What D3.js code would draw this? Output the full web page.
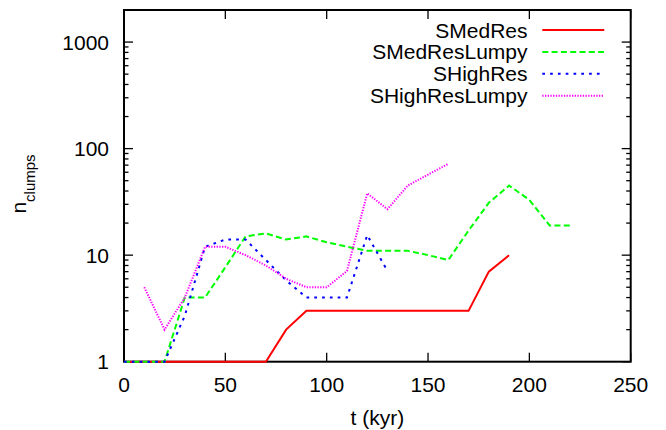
<!DOCTYPE html>
<html>
<head>
<meta charset="utf-8">
<script src="https://cdn.jsdelivr.net/npm/d3@7"></script>
<style>
  html, body { margin: 0; padding: 0; background: #fff; }
  svg { display: block; }
  text { font-family: "Liberation Sans", Arial, sans-serif; fill: #000; }
</style>
</head>
<body>
<svg id="chart" width="666" height="430"></svg>
<script>
// ---- data ----
const tMedRes = [0,10,20,30,40,50,60,70,80,90,100,110,120,130,140,150,160,170,180,190];
const nMedRes = [1,1,1,1,1,1,1,1,2,3,3,3,3,3,3,3,3,3,7,10];

const tMedResLumpy = [0,10,20,30,40,50,60,70,80,90,100,110,120,130,140,150,160,170,180,190,200,210,220];
const nMedResLumpy = [1,1,1,4,4,7.7,15,16,14,15,13.2,12,11,11,11,10,9,17,31,45,33,19,19];

const tHighRes = [0,10,20,30,40,50,60,70,80,90,100,110,120,130];
const nHighRes = [1,1,1,2.7,12,14,14,9,5.8,4,4,4,15.4,7.1];

const tHighResLumpy = [10,20,30,40,50,60,70,80,90,100,110,120,130,140,150,160];
const nHighResLumpy = [5,2,4,12,12,10,8,6,5,5,7.1,38,27,45,57,72];

const seriesNames = ["SMedRes","SMedResLumpy","SHighRes","SHighResLumpy"];
const seriesColors = ["#ff0000","#00ff00","#0000ff","#ff00ff"];
const seriesDashes = [null,"6,3.3","2.7,5.1","1.3,1.4"];

const xTicks = [0,50,100,150,200,250];
const yTicks = [1,10,100,1000];
const xDomain = [0,250];
const yDomain = [1,2000];
const xLabel = "t (kyr)";
const yLabelMain = "n";
const yLabelSub = "clumps";

// ---- layout ----
const L = 124, R = 630.7, T = 10, B = 361.7;
const svg = d3.select("#chart");
const x = d3.scaleLinear().domain(xDomain).range([L, R]);
const y = d3.scaleLog().domain(yDomain).range([B, T]);

const series = [
  {t: tMedRes, n: nMedRes},
  {t: tMedResLumpy, n: nMedResLumpy},
  {t: tHighRes, n: nHighRes},
  {t: tHighResLumpy, n: nHighResLumpy}
].map((s, i) => ({
  name: seriesNames[i], color: seriesColors[i], dash: seriesDashes[i],
  pts: s.t.map((t, j) => [t, s.n[j]])
}));

// minor log ticks
const minor = [];
[1,10,100,1000].forEach(d => { for (let k = 2; k <= 9; k++) { const v = k*d; if (v < yDomain[1]) minor.push(v); } });

const tk = svg.append("g").attr("stroke", "#000").attr("stroke-width", 1.3);
// x ticks bottom & top
xTicks.forEach(v => {
  tk.append("line").attr("x1", x(v)).attr("x2", x(v)).attr("y1", B).attr("y2", B - 9);
  tk.append("line").attr("x1", x(v)).attr("x2", x(v)).attr("y1", T).attr("y2", T + 9);
});
// y major ticks left & right
yTicks.forEach(v => {
  tk.append("line").attr("x1", L).attr("x2", L + 9).attr("y1", y(v)).attr("y2", y(v));
  tk.append("line").attr("x1", R).attr("x2", R - 9).attr("y1", y(v)).attr("y2", y(v));
});
minor.forEach(v => {
  tk.append("line").attr("x1", L).attr("x2", L + 4.5).attr("y1", y(v)).attr("y2", y(v));
  tk.append("line").attr("x1", R).attr("x2", R - 4.5).attr("y1", y(v)).attr("y2", y(v));
});

// frame
svg.append("rect").attr("x", L).attr("y", T).attr("width", R - L).attr("height", B - T)
  .attr("fill", "none").attr("stroke", "#000").attr("stroke-width", 2);

// tick labels
svg.append("g").selectAll("text").data(xTicks).join("text")
  .attr("x", d => x(d)).attr("y", 391.5).attr("text-anchor", "middle")
  .attr("font-size", 21).text(d => d);
svg.append("g").selectAll("text").data(yTicks).join("text")
  .attr("x", 109).attr("y", d => y(d)).attr("dy", "0.36em").attr("text-anchor", "end")
  .attr("font-size", 21).text(d => d);

// axis labels
svg.append("text").attr("x", (L + R) / 2).attr("y", 425).attr("text-anchor", "middle")
  .attr("font-size", 21).text(xLabel);
const yl = svg.append("text").attr("transform", "translate(26,184) rotate(-90)")
  .attr("text-anchor", "middle").attr("font-size", 21);
yl.append("tspan").text(yLabelMain);
yl.append("tspan").attr("dy", 9).attr("font-size", 15).text(yLabelSub);

// lines
const line = d3.line().x(d => x(d[0])).y(d => y(d[1]));
svg.append("g").selectAll("path").data(series).join("path")
  .attr("d", d => line(d.pts)).attr("fill", "none")
  .attr("stroke", d => d.color).attr("stroke-width", 2)
  .attr("stroke-dasharray", d => d.dash)
  .attr("stroke-linejoin", "miter");

// legend
const lg = svg.append("g");
series.forEach((s, i) => {
  const yy = 30 + i * 21.9;
  lg.append("text").attr("x", 527.5).attr("y", yy).attr("dy", "0.36em")
    .attr("text-anchor", "end").attr("font-size", 21).text(s.name);
  lg.append("line").attr("x1", 542.3).attr("x2", 604.3).attr("y1", yy).attr("y2", yy)
    .attr("stroke", s.color).attr("stroke-width", 2).attr("stroke-dasharray", s.dash);
});
</script>
</body>
</html>
